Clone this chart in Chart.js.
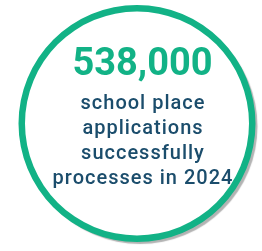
<!DOCTYPE html>
<html>
<head>
<meta charset="utf-8">
<script src="https://cdn.jsdelivr.net/npm/chart.js@4/dist/chart.umd.min.js"></script>
<style>
  html, body { margin: 0; padding: 0; background: #fff; }
  #wrap { width: 262px; height: 251px; position: relative; }
</style>
</head>
<body>
<div id="wrap"><canvas id="stat"></canvas></div>
<script>
// the figure and its caption
const headline = "538,000";
const captionLines = ["school place", "applications", "successfully", "processes in 2024"];
// one full ring
const ringLabels = ["applications"];
const ringValues = [1];

const green = "#12b286";
const navy = "#1b4d6c";

// white disc with a soft shadow behind the ring
const discShadow = {
  id: "discShadow",
  beforeDatasetsDraw(chart) {
    const arc = chart.getDatasetMeta(0).data[0];
    if (!arc) return;
    const ctx = chart.ctx;
    ctx.save();
    ctx.shadowColor = "rgba(0,0,0,0.3)";
    ctx.shadowOffsetX = 3;
    ctx.shadowOffsetY = 3;
    ctx.shadowBlur = 1;
    ctx.beginPath();
    ctx.arc(arc.x, arc.y, arc.outerRadius - 1, 0, Math.PI * 2);
    ctx.fillStyle = "#fff";
    ctx.fill();
    ctx.restore();
  }
};

// headline number and caption in the middle
const centreText = {
  id: "centreText",
  afterDatasetsDraw(chart) {
    const arc = chart.getDatasetMeta(0).data[0];
    const ctx = chart.ctx;
    const cx = arc.x + 5.5;
    ctx.save();
    ctx.textAlign = "center";
    ctx.textBaseline = "alphabetic";
    ctx.fillStyle = green;
    ctx.font = "bold 38px Roboto";
    ctx.fillText(headline, cx, arc.y - 48.5);
    ctx.fillStyle = navy;
    ctx.font = "500 20px Roboto";
    ctx.letterSpacing = "1px";
    captionLines.forEach((line, i) => {
      ctx.fillText(line, cx + 0.5, arc.y - 14.5 + i * 25);
    });
    ctx.restore();
  }
};

new Chart(document.getElementById("stat"), {
  type: "doughnut",
  data: {
    labels: ringLabels,
    datasets: [{
      data: ringValues,
      backgroundColor: green,
      borderWidth: 0,
      hoverOffset: 0
    }]
  },
  options: {
    responsive: true,
    maintainAspectRatio: false,
    animation: false,
    cutout: 112,
    layout: { padding: { left: 18, right: 6, top: 5, bottom: 9 } },
    events: [],
    plugins: {
      legend: { display: false },
      tooltip: { enabled: false }
    }
  },
  plugins: [discShadow, centreText]
});
</script>
</body>
</html>
